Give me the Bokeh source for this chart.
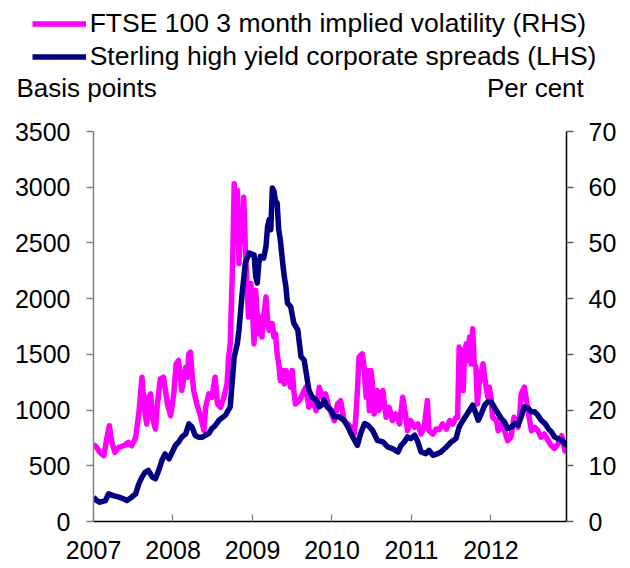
from bokeh.plotting import figure
from bokeh.layouts import column
from bokeh.models import (Range1d, LinearAxis, FixedTicker, Legend, LegendItem, Label)
from bokeh.embed import file_html
from bokeh.resources import INLINE

# ---------------- data ----------------
year_ticks = [2007, 2008, 2009, 2010, 2011, 2012]
year_labels = ["2007", "2008", "2009", "2010", "2011", "2012"]
left_ticks = [0, 500, 1000, 1500, 2000, 2500, 3000, 3500]
right_ticks = [0, 10, 20, 30, 40, 50, 60, 70]

series_ftse_name = "FTSE 100 3 month implied volatility (RHS)"
series_hy_name = "Sterling high yield corporate spreads (LHS)"
left_title = "Basis points"
right_title = "Per cent"

hy_dates = [2007.00, 2007.04, 2007.08, 2007.15, 2007.19, 2007.25, 2007.32, 2007.38, 2007.42, 2007.48,
            2007.53, 2007.57, 2007.61, 2007.65, 2007.69, 2007.74, 2007.78, 2007.82, 2007.86, 2007.90,
            2007.95, 2007.99, 2008.03, 2008.07, 2008.11, 2008.16, 2008.20, 2008.24, 2008.28, 2008.32,
            2008.37, 2008.41, 2008.45, 2008.49, 2008.53, 2008.58, 2008.66, 2008.72, 2008.77, 2008.81,
            2008.83, 2008.87, 2008.91, 2008.96, 2009.02, 2009.04, 2009.06, 2009.08, 2009.10, 2009.14,
            2009.17, 2009.19, 2009.21, 2009.23, 2009.25, 2009.27, 2009.29, 2009.31, 2009.33, 2009.35,
            2009.38, 2009.40, 2009.42, 2009.44, 2009.48, 2009.52, 2009.57, 2009.61, 2009.65, 2009.67,
            2009.71, 2009.75, 2009.80, 2009.84, 2009.88, 2009.90, 2009.94, 2009.99, 2010.03, 2010.09,
            2010.15, 2010.20, 2010.26, 2010.32, 2010.36, 2010.41, 2010.45, 2010.51, 2010.57, 2010.64,
            2010.70, 2010.76, 2010.83, 2010.87, 2010.91, 2010.95, 2010.99, 2011.04, 2011.08, 2011.12,
            2011.18, 2011.22, 2011.27, 2011.33, 2011.37, 2011.44, 2011.50, 2011.56, 2011.60, 2011.65,
            2011.69, 2011.73, 2011.77, 2011.81, 2011.84, 2011.88, 2011.92, 2011.96, 2012.00, 2012.04,
            2012.09, 2012.13, 2012.17, 2012.21, 2012.26, 2012.30, 2012.34, 2012.38, 2012.42, 2012.47,
            2012.51, 2012.55, 2012.59, 2012.63, 2012.68, 2012.72, 2012.76, 2012.80, 2012.84, 2012.89,
            2012.93, 2012.95]
hy_spreads = [218, 188, 173, 188, 248, 233, 218, 203, 188, 218,
              248, 338, 398, 443, 458, 398, 383, 458, 547, 607,
              563, 622, 682, 712, 757, 787, 877, 846, 772, 757,
              757, 774, 790, 834, 860, 909, 954, 1029, 1478, 1599,
              1718, 2049, 2319, 2409, 2394, 2199, 2139, 2319, 2379, 2364,
              2469, 2649, 2709, 2619, 2994, 2964, 2874, 2859, 2619, 2529,
              2319, 2199, 2109, 1959, 1929, 1779, 1719, 1479, 1449, 1359,
              1179, 1119, 1089, 1029, 1050, 1089, 1029, 999, 939, 939,
              909, 849, 759, 684, 789, 879, 864, 819, 729, 714,
              669, 654, 624, 684, 714, 759, 744, 774, 714, 624,
              609, 639, 594, 609, 624, 669, 714, 744, 849, 909,
              954, 999, 1044, 969, 909, 969, 1044, 1074, 1074, 1029,
              969, 924, 894, 834, 849, 879, 864, 939, 1029, 1014,
              984, 984, 954, 909, 879, 834, 804, 759, 744, 729,
              699, 684]

ftse_dates = [2007.00, 2007.04, 2007.08, 2007.13, 2007.17, 2007.20, 2007.23, 2007.27, 2007.32, 2007.38,
              2007.44, 2007.48, 2007.53, 2007.57, 2007.61, 2007.63, 2007.65, 2007.67, 2007.69, 2007.72,
              2007.74, 2007.78, 2007.80, 2007.84, 2007.88, 2007.93, 2007.97, 2008.01, 2008.04, 2008.07,
              2008.11, 2008.16, 2008.18, 2008.20, 2008.22, 2008.24, 2008.26, 2008.30, 2008.35, 2008.39,
              2008.41, 2008.45, 2008.49, 2008.53, 2008.56, 2008.60, 2008.64, 2008.68, 2008.70, 2008.72,
              2008.75, 2008.77, 2008.79, 2008.81, 2008.83, 2008.85, 2008.87, 2008.89, 2008.91, 2008.93,
              2008.95, 2008.98, 2009.00, 2009.02, 2009.04, 2009.06, 2009.08, 2009.10, 2009.12, 2009.14,
              2009.17, 2009.19, 2009.21, 2009.23, 2009.25, 2009.27, 2009.29, 2009.31, 2009.33, 2009.35,
              2009.38, 2009.40, 2009.42, 2009.46, 2009.48, 2009.50, 2009.52, 2009.54, 2009.59, 2009.63,
              2009.67, 2009.71, 2009.75, 2009.80, 2009.84, 2009.88, 2009.92, 2009.96, 2010.03, 2010.07,
              2010.11, 2010.15, 2010.20, 2010.24, 2010.28, 2010.30, 2010.32, 2010.34, 2010.38, 2010.40,
              2010.43, 2010.45, 2010.47, 2010.49, 2010.51, 2010.53, 2010.57, 2010.59, 2010.64, 2010.68,
              2010.72, 2010.76, 2010.80, 2010.85, 2010.89, 2010.93, 2010.95, 2010.99, 2011.04, 2011.08,
              2011.12, 2011.16, 2011.20, 2011.22, 2011.27, 2011.31, 2011.35, 2011.39, 2011.44, 2011.48,
              2011.52, 2011.56, 2011.58, 2011.60, 2011.62, 2011.65, 2011.67, 2011.69, 2011.71, 2011.73,
              2011.75, 2011.77, 2011.79, 2011.81, 2011.83, 2011.85, 2011.90, 2011.92, 2011.94, 2011.96,
              2011.98, 2012.00, 2012.02, 2012.07, 2012.09, 2012.13, 2012.17, 2012.21, 2012.25, 2012.29,
              2012.34, 2012.36, 2012.38, 2012.42, 2012.44, 2012.48, 2012.51, 2012.55, 2012.59, 2012.63,
              2012.67, 2012.72, 2012.76, 2012.80, 2012.84, 2012.89, 2012.93, 2012.95]
ftse_vol = [13.9, 13.3, 12.4, 11.8, 15.1, 17.2, 14.2, 12.4, 13.3, 13.6,
            14.2, 13.6, 15.1, 19.3, 25.9, 22.3, 19.3, 17.5, 22.3, 22.9,
            18.7, 16.6, 20.5, 25.6, 25.9, 21.1, 19.0, 22.9, 28.3, 28.9,
            23.5, 27.7, 25.9, 30.1, 30.4, 26.5, 23.5, 21.1, 18.7, 16.3,
            20.5, 22.9, 22.3, 25.9, 21.1, 20.5, 22.3, 24.7, 29.5, 31.9,
            46.3, 60.6, 52.2, 59.4, 46.3, 55.2, 52.2, 58.2, 49.2, 42.7,
            36.7, 42.7, 37.9, 31.9, 41.5, 36.7, 33.7, 36.7, 33.1, 36.7,
            40.3, 36.1, 34.3, 35.5, 35.5, 33.1, 33.7, 30.1, 28.3, 25.3,
            27.1, 24.7, 27.1, 25.9, 24.1, 27.1, 23.5, 21.1, 21.7, 22.9,
            24.1, 20.5, 22.3, 19.9, 24.1, 22.3, 22.9, 20.5, 18.1, 21.1,
            21.7, 18.1, 17.5, 16.9, 15.7, 18.7, 23.5, 29.5, 30.1, 28.3,
            22.3, 27.1, 19.9, 27.1, 24.7, 19.3, 23.5, 19.9, 23.5, 18.7,
            20.5, 18.1, 19.3, 17.5, 22.3, 18.7, 16.3, 18.1, 16.9, 17.5,
            15.7, 16.9, 21.7, 16.3, 15.7, 16.6, 16.5, 17.5, 16.6, 18.1,
            17.5, 18.7, 18.7, 31.3, 30.7, 23.5, 30.7, 31.9, 28.9, 33.1,
            28.3, 34.6, 28.3, 27.7, 21.1, 24.7, 28.3, 25.9, 24.1, 22.3,
            24.1, 22.3, 18.7, 18.1, 16.3, 17.5, 16.3, 14.5, 15.1, 18.7,
            16.9, 18.7, 22.9, 24.1, 22.3, 18.7, 16.3, 16.9, 16.3, 15.1,
            15.7, 14.5, 13.6, 13.1, 13.9, 15.4, 12.7, 12.4]

# ---------------- styling ----------------
FONT = "Liberation Sans"
TICK_SIZE = "25px"
TEXT_SIZE = "26px"
LEGEND_SIZE = "26.5px"
MAGENTA = "#FF00FF"
NAVY = "#000080"
LW = 5.5

W = 630
HEADER_H = 104
MAIN_H = 568 - HEADER_H

# ---------------- header (legend + axis titles) ----------------
hdr = figure(width=W, height=HEADER_H, output_backend="svg", toolbar_location=None,
             x_range=Range1d(0, 1), y_range=Range1d(0, 1),
             x_axis_type=None, y_axis_type=None, frame_align=False,
             min_border_left=0, min_border_right=0, min_border_top=0, min_border_bottom=0)
hdr.outline_line_color = None
hdr.xgrid.visible = False
hdr.ygrid.visible = False
hdr.border_fill_color = "white"

# legend keys: the same series, drawn outside this header's view, so only
# their legend samples show
k_ftse = hdr.line(ftse_dates, ftse_vol, line_color=MAGENTA, line_width=LW)
k_hy = hdr.line(hy_dates, hy_spreads, line_color=NAVY, line_width=LW)

legend = Legend(items=[LegendItem(label=series_ftse_name, renderers=[k_ftse]),
                       LegendItem(label=series_hy_name, renderers=[k_hy])],
                location=(31.7, 31.5), orientation="vertical", padding=0, margin=0,
                spacing=0, glyph_width=54, glyph_height=33, label_height=33,
                label_standoff=4, label_text_font=FONT, label_text_font_size=LEGEND_SIZE,
                label_text_color="black", border_line_color=None, background_fill_alpha=0)
hdr.add_layout(legend)

hdr.add_layout(Label(x=16, y=16.6, x_units="screen", y_units="screen", text=left_title,
                     text_font=FONT, text_font_size=TEXT_SIZE, text_align="left",
                     text_baseline="middle", text_color="black"))
hdr.add_layout(Label(x=583.3, y=16.6, x_units="screen", y_units="screen", text=right_title,
                     text_font=FONT, text_font_size=TEXT_SIZE, text_align="right",
                     text_baseline="middle", text_color="black"))

# ---------------- main chart ----------------
p = figure(width=W, height=MAIN_H, output_backend="svg", toolbar_location=None,
           x_range=Range1d(2007.0, 2012.95), y_range=Range1d(0, 3500), frame_align=False,
           min_border_left=93, min_border_right=64, min_border_top=131 - HEADER_H,
           min_border_bottom=47)
p.extra_y_ranges = {"pct": Range1d(0, 70)}
p.outline_line_color = None
p.xgrid.visible = False
p.ygrid.visible = False
p.border_fill_color = "white"

p.line(ftse_dates, ftse_vol, line_color=MAGENTA, line_width=LW,
       line_join="round", y_range_name="pct")
p.line(hy_dates, hy_spreads, line_color=NAVY, line_width=LW, line_join="round")

# bottom axis
xa = p.xaxis[0]
xa.ticker = FixedTicker(ticks=year_ticks)
xa.major_label_overrides = {t: s for t, s in zip(year_ticks, year_labels)}
xa.major_tick_in = 7
xa.major_tick_out = 0
xa.minor_tick_line_color = None
xa.axis_line_color = "black"
xa.axis_line_width = 1.5
xa.major_tick_line_color = "#808080"
xa.major_tick_line_width = 1.2
xa.major_label_standoff = 19
xa.major_label_text_font = FONT
xa.major_label_text_font_size = TICK_SIZE
xa.major_label_text_color = "black"

# left axis
ya = p.yaxis[0]
ya.ticker = FixedTicker(ticks=left_ticks)
ya.major_tick_in = 0
ya.major_tick_out = 7
ya.minor_tick_line_color = None
ya.axis_line_color = "#808080"
ya.axis_line_width = 1.5
ya.major_tick_line_color = "#808080"
ya.major_tick_line_width = 1.5
ya.major_label_standoff = 16
ya.major_label_text_font = FONT
ya.major_label_text_font_size = TICK_SIZE
ya.major_label_text_color = "black"

# right axis
ra = LinearAxis(y_range_name="pct", ticker=FixedTicker(ticks=right_ticks))
ra.major_tick_in = 0
ra.major_tick_out = 7
ra.minor_tick_line_color = None
ra.axis_line_color = "black"
ra.axis_line_width = 1.5
ra.major_tick_line_color = "#606060"
ra.major_tick_line_width = 1.5
ra.major_label_standoff = 15
ra.major_label_text_font = FONT
ra.major_label_text_font_size = TICK_SIZE
ra.major_label_text_color = "black"
p.add_layout(ra, "right")

layout = column(hdr, p, spacing=0)
open("out.html", "w").write(file_html(layout, INLINE))
